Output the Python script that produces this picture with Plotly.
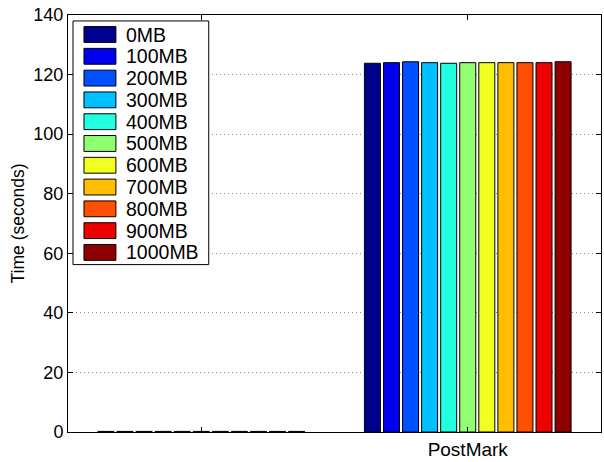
import plotly.graph_objects as go

categories = ["", "PostMark"]
series_names = ["0MB", "100MB", "200MB", "300MB", "400MB", "500MB",
                "600MB", "700MB", "800MB", "900MB", "1000MB"]
blank_values = [0.2, 0.2, 0.2, 0.2, 0.2, 0.2, 0.2, 0.2, 0.2, 0.2, 0.2]
postmark_values = [123.8, 124.0, 124.3, 124.0, 123.8, 124.0,
                   124.0, 124.0, 124.0, 124.0, 124.3]
colors = ["#00008F", "#0000EE", "#0050FF", "#00C0FF", "#20FFE0", "#90FF70",
          "#F0FF20", "#FFBF00", "#FF5000", "#EE0000", "#8F0000"]
y_ticks = [0, 20, 40, 60, 80, 100, 120, 140]

FONT = "Liberation Sans, Arial, Helvetica, sans-serif"
W, H = 604, 462
ML, MR, MT, MB = 68, 2, 15, 26
PW, PH = W - ML - MR, H - MT - MB

fig = go.Figure()
for i, name in enumerate(series_names):
    fig.add_trace(go.Bar(
        x=[0, 1], y=[blank_values[i], postmark_values[i]], name=name,
        marker=dict(color=colors[i], line=dict(color="black", width=1)),
        showlegend=False,
    ))

def px_x(px):
    return (px - ML) / PW

def px_y(py):
    return (H - MB - py) / PH

shapes = []
annotations = []
# legend box
shapes.append(dict(type="rect", xref="paper", yref="paper",
                   x0=px_x(73), x1=px_x(209), y0=px_y(267), y1=px_y(21),
                   line=dict(color="black", width=1), fillcolor="white", layer="above"))
for i, name in enumerate(series_names):
    cy = 34.7 + 22 * i
    shapes.append(dict(type="rect", xref="paper", yref="paper",
                       x0=px_x(84), x1=px_x(116), y0=px_y(cy + 8), y1=px_y(cy - 8),
                       line=dict(color="black", width=1), fillcolor=colors[i], layer="above"))
    annotations.append(dict(text=name, xref="paper", yref="paper",
                            x=px_x(124), y=px_y(cy), xanchor="left", yanchor="middle",
                            showarrow=False, font=dict(size=19.5, color="black", family=FONT)))

fig.update_layout(
    width=W, height=H,
    margin=dict(l=ML, r=MR, t=MT, b=MB),
    paper_bgcolor="white", plot_bgcolor="white",
    barmode="group", bargap=0.213, bargroupgap=0.16,
    font=dict(family=FONT, size=18, color="black"),
    shapes=shapes, annotations=annotations,
    xaxis=dict(range=[-0.5, 1.5], tickvals=[0, 1], ticktext=categories,
               ticks="inside", ticklen=5, tickcolor="black",
               showline=True, linecolor="black", linewidth=1, mirror="ticks",
               showgrid=False, zeroline=False, tickfont=dict(size=19)),
    yaxis=dict(range=[0, 140], tickvals=y_ticks,
               ticks="inside", ticklen=5, tickcolor="black",
               showline=True, linecolor="black", linewidth=1, mirror="ticks",
               showgrid=True, gridcolor="#8a8a8a", griddash="1px,3px", gridwidth=1,
               zeroline=False, tickfont=dict(size=18),
               title=dict(text="Time (seconds)", font=dict(size=17.5), standoff=4)),
)

fig.write_html("out.html", config={"displayModeBar": False},
               post_script="document.body.style.margin='0';document.body.style.padding='0';")
